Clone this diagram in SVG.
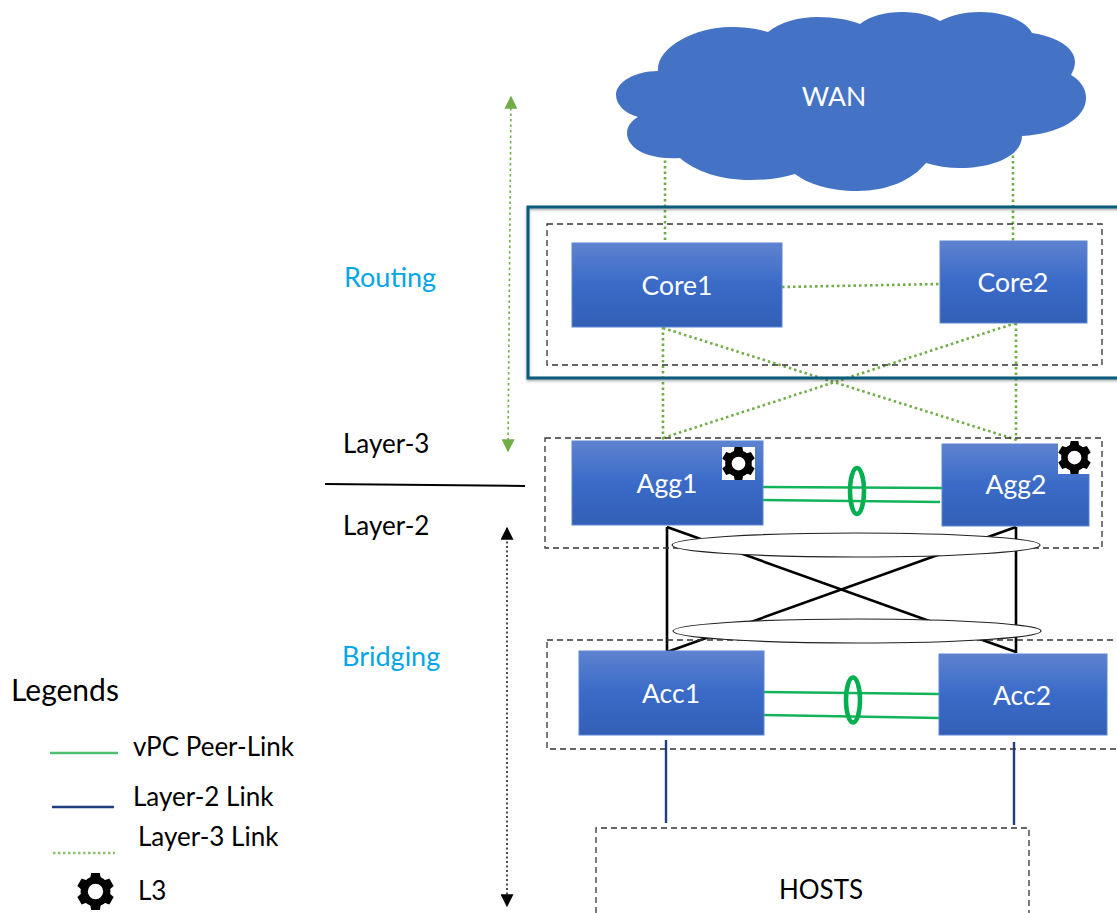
<svg xmlns="http://www.w3.org/2000/svg" width="1117" height="913" viewBox="0 0 1117 913">
<style>
text{font-family:"Lato","Liberation Sans",sans-serif;font-size:26px;fill:#000}
.w{fill:#fff;text-anchor:middle;font-size:26.5px}
.b{fill:#00a6e8;font-size:27px}
.box{fill:none;stroke:#333;stroke-width:1.3;stroke-dasharray:6 4}
.sw{fill:url(#g);stroke:#5b86d2;stroke-width:1}
.l3{fill:none;stroke:#70ad47;stroke-width:2.6;stroke-dasharray:2.5 3}
.pl{fill:none;stroke:#14b35a;stroke-width:2.6}
.ring{fill:none;stroke:#00b050;stroke-width:4.5}
.k{fill:none;stroke:#000;stroke-width:2.6}
.l2{fill:none;stroke:#1f3f7f;stroke-width:2.4}
.oval{fill:#fff;stroke:#222;stroke-width:1.2}
</style>
<defs>
<linearGradient id="g" x1="0" y1="0" x2="0" y2="1"><stop offset="0" stop-color="#5e82cf"/><stop offset=".5" stop-color="#3a6bc8"/><stop offset="1" stop-color="#335fb6"/></linearGradient>
<marker id="ag" viewBox="0 0 10 10" refX="9" refY="5" markerWidth="13" markerHeight="13" markerUnits="userSpaceOnUse" orient="auto-start-reverse"><path d="M0 0L10 5L0 10Z" fill="#70ad47"/></marker>
<marker id="ak" viewBox="0 0 10 10" refX="9" refY="5" markerWidth="13" markerHeight="13" markerUnits="userSpaceOnUse" orient="auto-start-reverse"><path d="M0 0L10 5L0 10Z" fill="#000"/></marker>
<symbol id="gear" viewBox="-18 -18 36 36" overflow="visible">
<circle r="11" fill="none" stroke="#000" stroke-width="7"/>
<g fill="#000"><path id="t" d="M-4.2 -18H4.2L5.5 -11H-5.5Z"/><use href="#t" transform="rotate(60)"/><use href="#t" transform="rotate(120)"/><use href="#t" transform="rotate(180)"/><use href="#t" transform="rotate(240)"/><use href="#t" transform="rotate(300)"/></g>
</symbol>
<filter id="sh" x="-5%" y="-5%" width="110%" height="110%"><feDropShadow dx="0" dy="1.5" stdDeviation="1.2" flood-color="#000" flood-opacity=".35"/></filter>
</defs>

<g id="connectors">
<path class="l3" d="M665 155V245M1013 150V245M782 287L940 284M663 327V440M1016 323V440M663 328L1017 440M1016 323L663 438"/>
<path class="k" d="M667 527V652M1016 527V653M667 527L1016 652M1016 527L667 652"/>
<path class="pl" d="M763 487L942 488M760 500L940 502M764 692L939 694M764 715L939 718"/>
<path class="l2" d="M666 740V823M1014 742V825"/>
<path class="l3" d="M511 97L508 451" marker-start="url(#ag)" marker-end="url(#ag)" style="stroke-width:1.6"/>
<path d="M507 528V906" fill="none" stroke="#000" stroke-width="1.4" stroke-dasharray="2 2.5" marker-start="url(#ak)" marker-end="url(#ak)"/>
<path d="M325 484L525 486" fill="none" stroke="#000" stroke-width="2"/>
</g>

<g id="group-core">
<rect x="528" y="207" width="600" height="171" fill="none" stroke="#0b5a7a" stroke-width="3" filter="url(#sh)"/>
<rect class="box" x="547" y="224" width="555" height="141"/>
</g>
<g id="group-agg"><rect class="box" x="545" y="438" width="557" height="110"/></g>
<g id="group-acc"><rect class="box" x="547" y="640" width="575" height="109"/></g>

<g id="wan">
<path fill="#4472c4" d="M658 71C656 48 695 27 730 27C745 27 758 29 768 32C780 22 800 17 817 17C835 17 850 20 860 24C870 16 885 12 902 12C920 12 932 16 940 21C952 15 965 12 980 12C1005 12 1026 21 1032 33C1058 37 1075 48 1075 62C1075 67 1073 71 1071 75C1081 81 1086 89 1086 98C1086 118 1060 134 1022 136C1022 155 995 168 960 168C948 168 936 166 926 163C912 180 888 191 857 191C830 191 808 184 795 174C782 178 767 180 750 180C720 180 695 171 680 158C645 160 627 147 627 133C627 127 631 121 638 117C624 113 616 104 616 95C616 82 635 71 658 71Z"/>
<text class="w" x="834" y="106">WAN</text>
</g>
<g id="core1"><rect class="sw" x="572" y="243" width="210" height="84"/><text class="w" x="677" y="295">Core1</text></g>
<g id="core2"><rect class="sw" x="940" y="241" width="147" height="82"/><text class="w" x="1013" y="292">Core2</text></g>

<g id="agg1"><rect class="sw" x="572" y="441" width="191" height="84"/><rect x="722" y="447" width="33" height="33" fill="#fff"/><use href="#gear" x="722" y="447" width="33" height="33"/><text class="w" x="667" y="493">Agg1</text></g>
<g id="agg2"><rect class="sw" x="942" y="444" width="147" height="82"/><rect x="1058" y="441" width="33" height="33" fill="#fff"/><use href="#gear" x="1058" y="441" width="33" height="33"/><text class="w" x="1016" y="494">Agg2</text></g>
<g id="acc1"><rect class="sw" x="579" y="651" width="185" height="84"/><text class="w" x="671" y="703">Acc1</text></g>
<g id="acc2"><rect class="sw" x="939" y="654" width="168" height="81"/><text class="w" x="1022" y="705">Acc2</text></g>

<g id="bundles">
<ellipse class="ring" cx="857" cy="491" rx="7" ry="23"/>
<ellipse class="ring" cx="853" cy="700" rx="7" ry="22.5"/>
<ellipse class="oval" cx="856" cy="545" rx="184" ry="12"/>
<ellipse class="oval" cx="857" cy="631" rx="184" ry="12"/>
</g>

<g id="hosts"><path class="box" d="M596 913V828H1029V913"/><text x="821" y="899" text-anchor="middle">HOSTS</text></g>

<g id="labels">
<text class="b" x="344" y="287">Routing</text>
<text x="343" y="453">Layer-3</text>
<text x="343" y="535">Layer-2</text>
<text class="b" x="342" y="666">Bridging</text>
</g>

<g id="legend">
<text x="11" y="701" style="font-size:30px">Legends</text>
<path d="M50 753H118" fill="none" stroke="#4fbe6e" stroke-width="2.4"/>
<text x="133" y="756">vPC Peer-Link</text>
<path class="l2" d="M52 807H114"/>
<text x="133" y="806">Layer-2 Link</text>
<path d="M53 853H115" fill="none" stroke="#8fbf70" stroke-width="2.4" stroke-dasharray="2.5 2.5"/>
<text x="138" y="846">Layer-3 Link</text>
<use href="#gear" x="77" y="873" width="37" height="37"/>
<text x="138" y="900">L3</text>
</g>
</svg>
